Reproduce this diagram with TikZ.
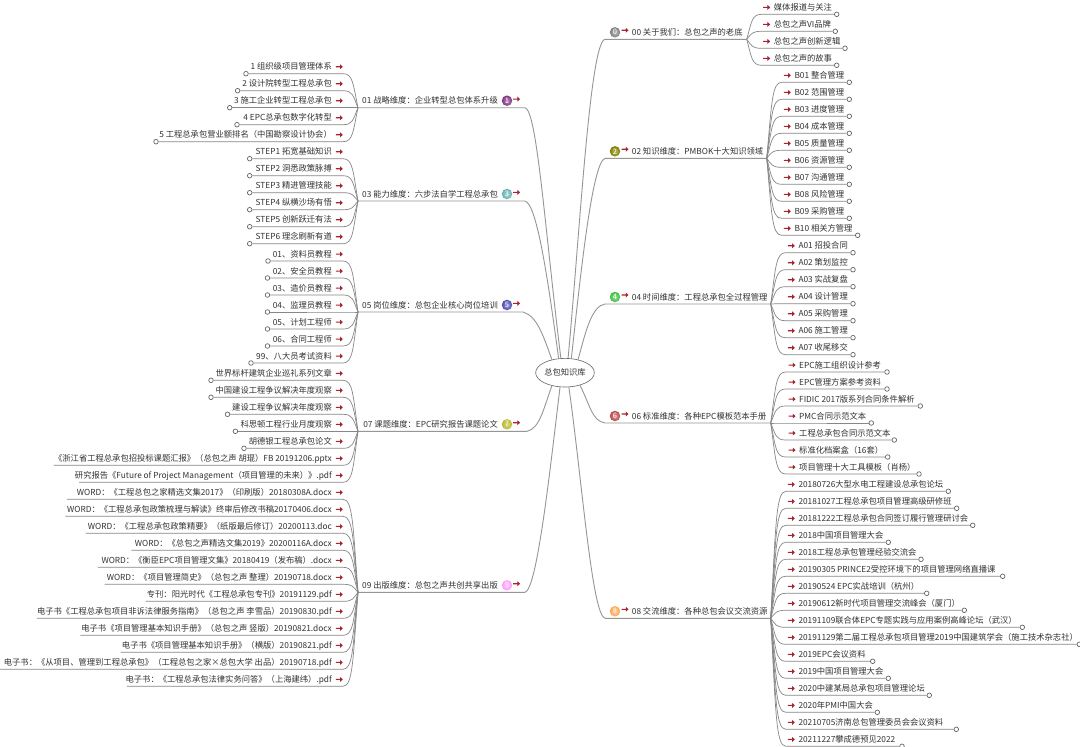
\documentclass[tikz,border=0pt]{standalone}
\usepackage{fontspec}
\setmainfont{Noto Sans CJK SC}
\usetikzlibrary{shapes.geometric,shapes.arrows}
\definecolor{inkc}{RGB}{50,50,50}
\definecolor{linec}{RGB}{135,135,135}
\definecolor{mainc}{RGB}{150,150,150}
\definecolor{redc}{RGB}{165,35,50}
\newcounter{kidno}
\tikzset{
  kidtext/.style={inner sep=0pt,text=inkc,font=\fontsize{8.3}{9}\selectfont,text height=6.8pt,text depth=1.8pt},
  kidline/.style={draw=linec,line width=0.7pt},
  mainline/.style={draw=mainc,line width=0.9pt},
  ringend/.style={circle,draw=black!60,fill=white,line width=0.7pt,inner sep=0pt,minimum size=4.6pt},
  redarr/.style={single arrow,fill=redc,draw=none,inner sep=0pt,minimum height=7pt,minimum width=5pt,single arrow head extend=0.7pt,single arrow tip angle=85},
  ballicon/.style={circle,inner sep=0pt,minimum size=10.5pt,text=white,font=\fontsize{7.5}{8}\selectfont,shade,shading=radial,inner color=#1!55!white,outer color=#1},
  rootnode/.style={ellipse,draw=black!60,fill=white,line width=0.6pt,inner sep=0pt,minimum width=53pt,minimum height=28.6pt,text=inkc,font=\fontsize{8.3}{9}\selectfont}
}
% left kid: underline y, left end x, text; uses \jx \jy \jn \tr
\newcommand{\Lkid}[3]{\stepcounter{kidno}
  \node[kidtext,anchor=east] (k\thekidno) at (\tr,#1-6.4) {#3};
  \node[redarr] (a\thekidno) at (\tr+7,#1-6.9) {};
  \node[ringend] (e\thekidno) at (#2,#1) {};
  \draw[kidline] (\jn) .. controls (\jx-5,{\jy+0.7*(#1-\jy)}) and (\jx-5,#1) .. (\jx-15,#1) -- (e\thekidno);}
\newcommand{\Lkidn}[3]{\stepcounter{kidno}
  \node[kidtext,anchor=east] (k\thekidno) at (\tr,#1-6.4) {#3};
  \node[redarr] (a\thekidno) at (\tr+7,#1-6.9) {};
  \coordinate (e\thekidno) at (#2,#1);
  \draw[kidline] (\jn) .. controls (\jx-5,{\jy+0.7*(#1-\jy)}) and (\jx-5,#1) .. (\jx-15,#1) -- (e\thekidno);}
% right kid: underline y, end x, text; uses \jx \jy \jn \tl
\newcommand{\Rkid}[3]{\stepcounter{kidno}
  \node[kidtext,anchor=west] (k\thekidno) at (\tl,#1-6.4) {#3};
  \node[redarr] (a\thekidno) at (\tl-7.3,#1-6.9) {};
  \node[ringend] (e\thekidno) at (#2,#1) {};
  \draw[kidline] (\jn) .. controls (\jx+5,{\jy+0.7*(#1-\jy)}) and (\jx+5,#1) .. (\jx+15,#1) -- (e\thekidno);}
% left parent: name, y, numeral, colour, text, stub x, c1 c2, root angle
\newcommand{\Lhead}[9]{
  \def\jn{j#1}\def\jx{358}\def\jy{#2}\def\tr{332}
  \coordinate (j#1) at (358,#2);
  \coordinate (s#1) at (#6,#2);
  \node[kidtext,anchor=east] (t#1) at (498,#2-6.4) {#5};
  \node[ballicon=#4] (i#1) at (507,#2-7) {#3};
  \node[redarr] (b#1) at (516.3,#2-8.6) {};
  \draw[mainline] (j#1) -- (s#1) .. controls #7 and #8 .. (root.#9);}
\newcommand{\Rhead}[9]{
  \def\jn{j#1}\def\jy{#2}
  \coordinate (s#1) at (605,#2);
  \node[kidtext,anchor=west] (t#1) at (631.7,#2-6.4) {#5};
  \node[ballicon=#4] (i#1) at (615,#2-7) {#3};
  \node[redarr] (b#1) at (624.7,#2-9) {};
  \draw[mainline] (j#1) -- (s#1) .. controls #7 and #8 .. (root.#9);}
\begin{document}
\begin{tikzpicture}[x=1pt,y=-1pt]
\useasboundingbox (0,0) rectangle (1080,747);
\fill[white] (0,0) rectangle (1080,747);
\node[rootnode] (root) at (565,372.7) {总包知识库};

% ---- 01
\Lhead{a}{107.7}{1}{violet!60!gray}{01 战略维度：企业转型总包体系升级}{525}{(537,110)}{(545,230)}{106}
\Lkid{73.7}{246}{1 组织级项目管理体系}
\Lkid{90.7}{237.6}{2 设计院转型工程总承包}
\Lkid{107.7}{229.7}{3 施工企业转型工程总承包}
\Lkid{124.7}{237}{4 EPC总承包数字化转型}
\Lkid{141.7}{156}{5 工程总承包营业额排名（中国勘察设计协会）}
% ---- 03
\Lhead{b}{201}{3}{teal!60!white}{03 能力维度：六步法自学工程总承包}{525}{(537,204)}{(548,280)}{114}
\Lkid{158.7}{249.7}{STEP1 拓宽基础知识}
\Lkid{175.7}{249.7}{STEP2 洞悉政策脉搏}
\Lkid{192.7}{249.7}{STEP3 精进管理技能}
\Lkid{209.7}{249.7}{STEP4 纵横沙场有悟}
\Lkid{226.7}{249.7}{STEP5 创新跃迁有法}
\Lkid{243.7}{249.7}{STEP6 理念刷新有道}
% ---- 05
\Lhead{c}{312}{5}{blue!40!gray}{05 岗位维度：总包企业核心岗位培训}{523}{(537,316)}{(543,335)}{135}
\Lkid{261}{268}{01、资料员教程}
\Lkid{278}{267.5}{02、安全员教程}
\Lkid{295}{267.5}{03、造价员教程}
\Lkid{312}{267.5}{04、监理员教程}
\Lkid{329}{267.5}{05、计划工程师}
\Lkid{346}{267.5}{06、合同工程师}
\Lkid{363}{251}{99、八大员考试资料}
% ---- 07
\Lhead{d}{431.3}{7}{olive!55!white}{07 课题维度：EPC研究报告课题论文}{527}{(540,428)}{(543,410)}{225}
\Lkid{380.3}{211}{世界标杆建筑企业巡礼系列文章}
\Lkid{397.3}{211}{中国建设工程争议解决年度观察}
\Lkid{414.3}{227.5}{建设工程争议解决年度观察}
\Lkid{431.3}{235.4}{科思顿工程行业月度观察}
\Lkid{448.3}{244}{胡德银工程总承包论文}
\Lkidn{465.3}{53.6}{《浙江省工程总承包招投标课题汇报》（总包之声 胡琨）FB 20191206.pptx}
\Lkidn{482.3}{79}{研究报告《Future of Project Management（项目管理的未来）》.pdf}
% ---- 09
\Lhead{e}{592.3}{9}{magenta!40!white}{09 出版维度：总包之声共创共享出版}{525}{(537,590)}{(550,470)}{251}
\Lkidn{499.3}{66.8}{WORD：《工程总包之家精选文集2017》（印刷版）20180308A.docx}
\Lkidn{516.3}{65.4}{WORD：《工程总承包政策梳理与解读》终审后修改书稿20170406.docx}
\Lkidn{533.3}{85.7}{WORD：《工程总承包政策精要》（纸版最后修订）20200113.doc}
\Lkidn{550.3}{131.4}{WORD：《总包之声精选文集2019》20200116A.docx}
\Lkidn{567.3}{97.5}{WORD：《衡臣EPC项目管理文集》20180419（发布稿）.docx}
\Lkidn{584.3}{104.6}{WORD：《项目管理简史》（总包之声 整理）20190718.docx}
\Lkidn{601.3}{145.7}{专刊：阳光时代《工程总承包专刊》20191129.pdf}
\Lkidn{618.3}{36.8}{电子书《工程总承包项目非诉法律服务指南》（总包之声 李雪品）20190830.pdf}
\Lkidn{635.3}{80.4}{电子书《项目管理基本知识手册》（总包之声 竖版）20190821.docx}
\Lkidn{652.3}{120.7}{电子书《项目管理基本知识手册》（横版）20190821.pdf}
\Lkidn{669.3}{0}{电子书：《从项目、管理到工程总承包》（工程总包之家×总包大学 出品）20190718.pdf}
\Lkidn{686.3}{126.8}{电子书：《工程总承包法律实务问答》（上海建纬）.pdf}

% ---- 00
\def\jx{746.7}\def\tl{773.7}\coordinate (jf) at (\jx,39.3);
\Rhead{f}{39.3}{0}{gray}{00 关于我们：总包之声的老底}{605}{(590,42)}{(580,230)}{78}
\Rkid{14.3}{836.7}{媒体报道与关注}
\Rkid{31.3}{835.3}{总包之声VI品牌}
\Rkid{48.3}{845}{总包之声创新逻辑}
\Rkid{65.3}{836.7}{总包之声的故事}
% ---- 02
\def\jx{766.7}\def\tl{794.3}\coordinate (jg) at (\jx,158.3);
\Rhead{g}{158.3}{2}{olive!60!gray}{02 知识维度：PMBOK十大知识领域}{605}{(592,162)}{(580,280)}{66}
\Rkid{82.3}{849.3}{B01 整合管理}
\Rkid{99.3}{849.3}{B02 范围管理}
\Rkid{116.3}{849.3}{B03 进度管理}
\Rkid{133.3}{849.3}{B04 成本管理}
\Rkid{150.3}{849.3}{B05 质量管理}
\Rkid{167.3}{849.3}{B06 资源管理}
\Rkid{184.3}{849.3}{B07 沟通管理}
\Rkid{201.3}{849.3}{B08 风险管理}
\Rkid{218.3}{849.3}{B09 采购管理}
\Rkid{235.3}{857.7}{B10 相关方管理}
% ---- 04
\def\jx{770.7}\def\tl{798.3}\coordinate (jh) at (\jx,304);
\Rhead{h}{304}{4}{green!50!gray}{04 时间维度：工程总承包全过程管理}{605}{(592,306)}{(586,330)}{45}
\Rkid{252.7}{853}{A01 招投合同}
\Rkid{269.7}{853}{A02 策划监控}
\Rkid{286.7}{853}{A03 实战复盘}
\Rkid{303.7}{853}{A04 设计管理}
\Rkid{320.7}{853}{A05 采购管理}
\Rkid{337.7}{853}{A06 施工管理}
\Rkid{354.7}{853}{A07 收尾移交}
% ---- 06
\def\jx{770.7}\def\tl{799}\coordinate (ji) at (\jx,423);
\Rhead{i}{423}{6}{red!45!gray}{06 标准维度：各种EPC模板范本手册}{605}{(592,421)}{(590,405)}{320}
\Rkid{372}{887}{EPC施工组织设计参考}
\Rkid{389}{887}{EPC管理方案参考资料}
\Rkid{406}{920.3}{FIDIC 2017版系列合同条件解析}
\Rkid{423}{871.3}{PMC合同示范文本}
\Rkid{440}{894.3}{工程总承包合同示范文本}
\Rkid{457}{887.7}{标准化档案盒（16套）}
\Rkid{474}{919}{项目管理十大工具模板（肖杨）}
% ---- 08
\def\jx{770.7}\def\tl{798.3}\coordinate (jl) at (\jx,618.3);
\Rhead{l}{618.3}{8}{orange!70!white}{08 交流维度：各种总包会议交流资源}{605}{(592,615)}{(582,480)}{285}
\Rkid{491.3}{948.3}{20180726大型水电工程建设总承包论坛}
\Rkid{508.3}{956.7}{20181027工程总承包项目管理高级研修班}
\Rkid{525.3}{972.7}{20181222工程总承包合同签订履行管理研讨会}
\Rkid{542.3}{888.3}{2018中国项目管理大会}
\Rkid{559.3}{921}{2018工程总承包管理经验交流会}
\Rkid{576.3}{1002.7}{20190305 PRINCE2受控环境下的项目管理网络直播课}
\Rkid{593.3}{926.7}{20190524 EPC实战培训（杭州）}
\Rkid{610.3}{964.3}{20190612新时代项目管理交流峰会（厦门）}
\Rkid{627.3}{1022.3}{20191109联合体EPC专题实践与应用案例高峰论坛（武汉）}
\Rkid{644.3}{1079.3}{20191129第二届工程总承包项目管理2019中国建筑学会（施工技术杂志社）}
\Rkid{661.3}{872.7}{2019EPC会议资料}
\Rkid{678.3}{888.3}{2019中国项目管理大会}
\Rkid{695.3}{929.3}{2020中建某局总承包项目管理论坛}
\Rkid{712.3}{877.3}{2020年PMI中国大会}
\Rkid{729.3}{956.3}{20210705济南总包管理委员会会议资料}
\Rkid{746.3}{902}{20211227攀成德预见2022}
\end{tikzpicture}
\end{document}
